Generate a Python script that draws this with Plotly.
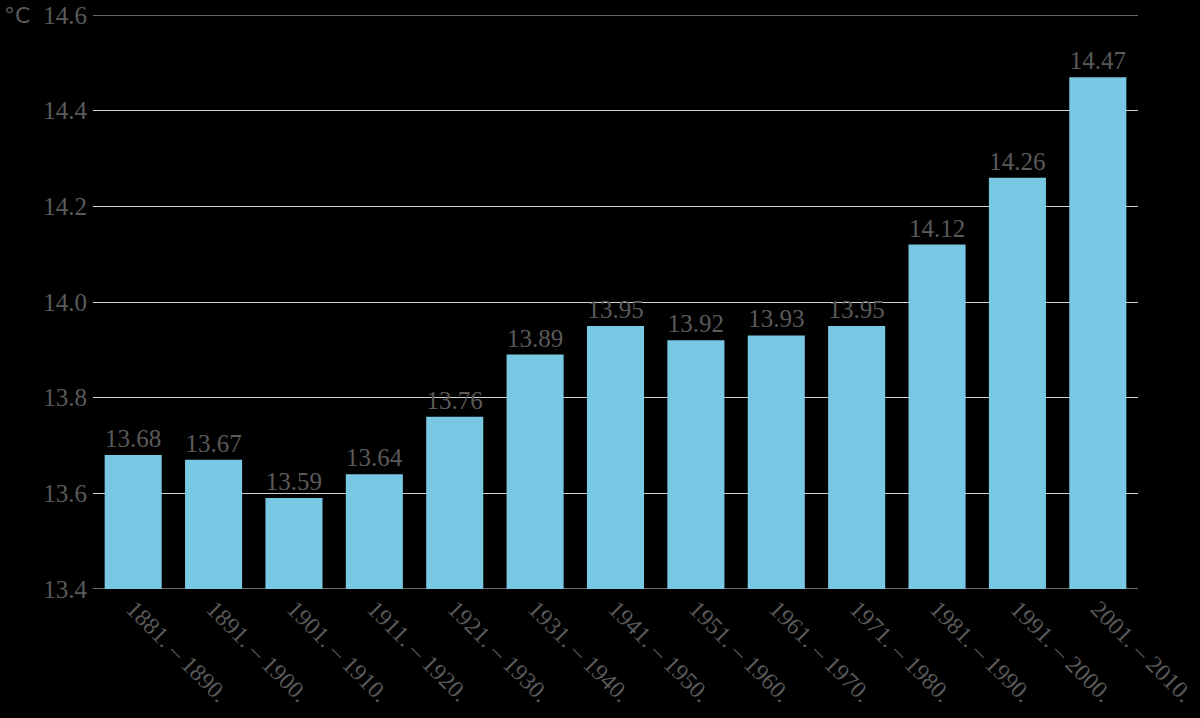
import plotly.graph_objects as go

periods = ["1881. – 1890.", "1891. – 1900.", "1901. – 1910.", "1911. – 1920.",
           "1921. – 1930.", "1931. – 1940.", "1941. – 1950.", "1951. – 1960.",
           "1961. – 1970.", "1971. – 1980.", "1981. – 1990.", "1991. – 2000.",
           "2001. – 2010."]
temps = [13.68, 13.67, 13.59, 13.64, 13.76, 13.89, 13.95, 13.92, 13.93, 13.95,
         14.12, 14.26, 14.47]
y_ticks = [13.4, 13.6, 13.8, 14.0, 14.2, 14.4, 14.6]

text_color = "#5a5a5a"
font_family = "Liberation Serif, Times New Roman, serif"

fig = go.Figure(go.Bar(
    x=periods, y=temps,
    marker=dict(color="#78C7E3", line=dict(width=0)),
    text=[f"{v:.2f}" for v in temps],
    textposition="outside",
    textfont=dict(family=font_family, size=25, color=text_color),
    cliponaxis=False,
))

# horizontal lines at the axis range edges (grid at borders)
for yv in (y_ticks[0], y_ticks[-1]):
    fig.add_shape(type="line", xref="paper", yref="y", x0=0, x1=1, y0=yv, y1=yv,
                  line=dict(color="#d0d0d0", width=1), layer="below")

fig.update_layout(
    width=1200, height=718,
    paper_bgcolor="black", plot_bgcolor="black",
    margin=dict(l=93, r=62, t=15, b=129, autoexpand=False),
    bargap=0.29,
    showlegend=False,
    xaxis=dict(
        automargin=False,
        tickangle=45,
        tickfont=dict(family=font_family, size=24, color=text_color),
        showgrid=False, showline=False, ticks="",
    ),
    yaxis=dict(
        automargin=False,
        range=[13.4, 14.6],
        tickvals=y_ticks,
        ticktext=[f"{t:.1f}" for t in y_ticks],
        tickfont=dict(family=font_family, size=25, color=text_color),
        showgrid=True, gridcolor="#d0d0d0", gridwidth=1,
        zeroline=False, showline=False, ticks="",
        ticklabelstandoff=5,
    ),
    annotations=[dict(
        text="°C", xref="paper", yref="paper", x=-0.087, y=1.0,
        xanchor="left", yanchor="middle", showarrow=False,
        font=dict(family="DejaVu Sans, sans-serif", size=22, color=text_color),
    )],
)

fig.write_html("out.html", config={"displayModeBar": False},
               post_script="document.body.style.margin='0';document.body.style.overflow='hidden';")
